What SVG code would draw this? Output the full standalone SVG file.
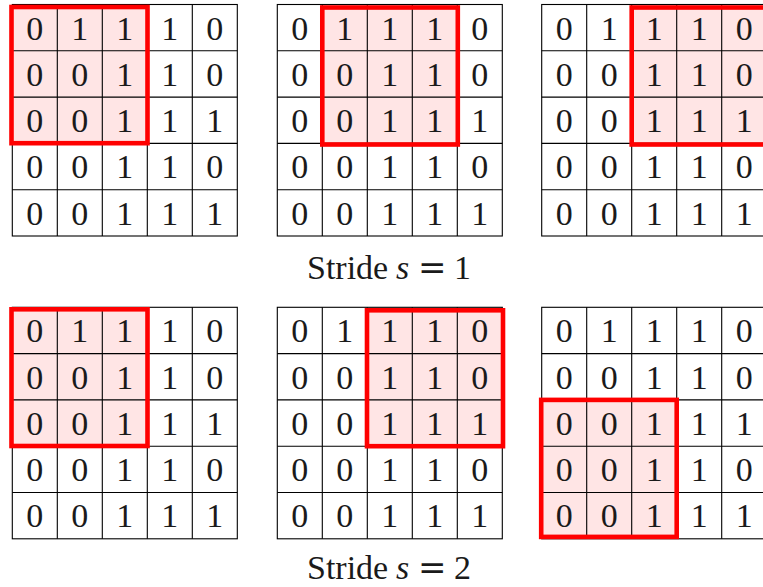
<svg xmlns="http://www.w3.org/2000/svg" width="763" height="587" viewBox="0 0 763 587">
<style>
.cell{fill:#fff;stroke:#000;stroke-width:1.1}
.ln{stroke:#000;stroke-width:1.1;fill:none}
.hl{fill:#ffe5e5;stroke:none}
.win{fill:none;stroke:#ff0000;stroke-width:4.6}
.d{font-family:"Liberation Serif","DejaVu Serif",serif;font-size:34px;fill:#1a1a1a;text-anchor:middle}
.lab{font-family:"Liberation Serif","DejaVu Serif",serif;font-size:34px;fill:#1a1a1a}
.it{font-style:italic}
.eq{font-family:"DejaVu Serif","Liberation Serif",serif}
</style>
<defs>
<g id="digits">
<text class="d" x="22.5 67.5 112.5 157.5 202.5" y="35">01110</text>
<text class="d" x="22.5 67.5 112.5 157.5 202.5" y="81.3">00110</text>
<text class="d" x="22.5 67.5 112.5 157.5 202.5" y="127.6">00111</text>
<text class="d" x="22.5 67.5 112.5 157.5 202.5" y="173.9">00110</text>
<text class="d" x="22.5 67.5 112.5 157.5 202.5" y="220.2">00111</text>
</g>
</defs>

<g id="grid-s1-a" transform="translate(12.3,4.5)">
<rect class="cell" x="0" y="0" width="225" height="231.5"/>
<rect class="hl" x="0" y="2" width="135" height="136.9"/>
<path class="ln" d="M45 0V231.5M90 0V231.5M135 0V231.5M180 0V231.5M0 46.3H225M0 92.6H225M0 138.9H225M0 185.2H225"/>
<use href="#digits"/>
<rect class="win" x="-0.8" y="2.5" width="136" height="136.2"/>
</g>

<g id="grid-s1-b" transform="translate(277.3,4.5)">
<rect class="cell" x="0" y="0" width="225" height="231.5"/>
<rect class="hl" x="45" y="2" width="135" height="136.9"/>
<path class="ln" d="M45 0V231.5M90 0V231.5M135 0V231.5M180 0V231.5M0 46.3H225M0 92.6H225M0 138.9H225M0 185.2H225"/>
<use href="#digits"/>
<rect class="win" x="45" y="3" width="135.5" height="137"/>
</g>

<g id="grid-s1-c" transform="translate(541.7,4.5)">
<rect class="cell" x="0" y="0" width="225" height="231.5"/>
<rect class="hl" x="90" y="2" width="135" height="136.9"/>
<path class="ln" d="M45 0V231.5M90 0V231.5M135 0V231.5M180 0V231.5M0 46.3H225M0 92.6H225M0 138.9H225M0 185.2H225"/>
<use href="#digits"/>
<rect class="win" x="90" y="3" width="135.5" height="137"/>
</g>

<g id="label-s1">
<text class="lab" x="307" y="279">Stride<tspan class="it" x="396">s</tspan><tspan class="eq" x="418">=</tspan><tspan x="454">1</tspan></text>
</g>

<g id="grid-s2-a" transform="translate(12.3,307.3)">
<rect class="cell" x="0" y="0" width="225" height="231.5"/>
<rect class="hl" x="0" y="2" width="135" height="136.9"/>
<path class="ln" d="M45 0V231.5M90 0V231.5M135 0V231.5M180 0V231.5M0 46.3H225M0 92.6H225M0 138.9H225M0 185.2H225"/>
<use href="#digits"/>
<rect class="win" x="-0.8" y="2" width="136" height="136.7"/>
</g>

<g id="grid-s2-b" transform="translate(277.3,307.3)">
<rect class="cell" x="0" y="0" width="225" height="231.5"/>
<rect class="hl" x="90" y="2" width="135" height="136.9"/>
<path class="ln" d="M45 0V231.5M90 0V231.5M135 0V231.5M180 0V231.5M0 46.3H225M0 92.6H225M0 138.9H225M0 185.2H225"/>
<use href="#digits"/>
<rect class="win" x="89.7" y="3" width="136" height="135.9"/>
</g>

<g id="grid-s2-c" transform="translate(541.7,307.3)">
<rect class="cell" x="0" y="0" width="225" height="231.5"/>
<rect class="hl" x="0" y="92.6" width="135" height="138.9"/>
<path class="ln" d="M45 0V231.5M90 0V231.5M135 0V231.5M180 0V231.5M0 46.3H225M0 92.6H225M0 138.9H225M0 185.2H225"/>
<use href="#digits"/>
<rect class="win" x="-0.5" y="92.6" width="135.5" height="137"/>
</g>

<g id="label-s2">
<text class="lab" x="307" y="579">Stride<tspan class="it" x="396">s</tspan><tspan class="eq" x="418">=</tspan><tspan x="454">2</tspan></text>
</g>
</svg>
